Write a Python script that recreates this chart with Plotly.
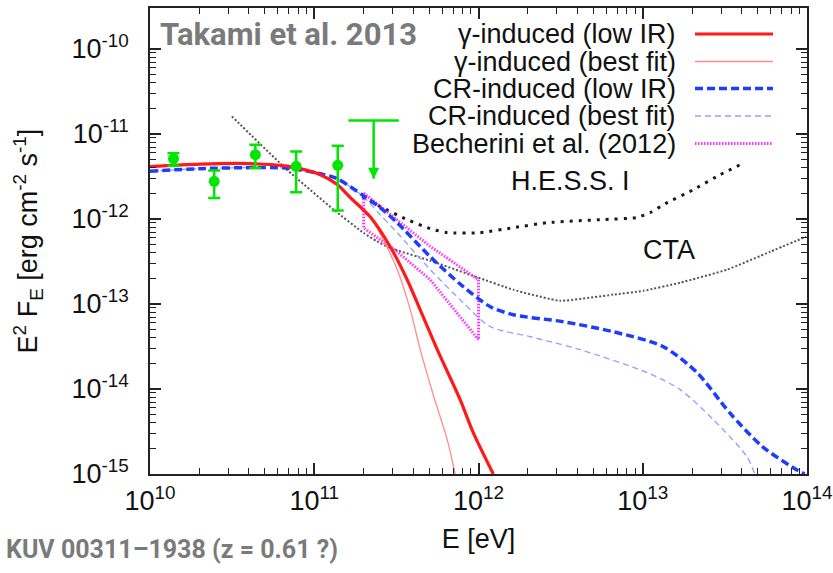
import plotly.graph_objects as go

# ---------------------------------------------------------------------------
# Data: energy E [eV] and E^2 F_E [erg cm^-2 s^-1]
# ---------------------------------------------------------------------------
obs_energy = [1.39e10, 2.46e10, 4.38e10, 7.76e10, 1.39e11]
obs_flux = [5.12e-12, 2.77e-12, 5.71e-12, 4.16e-12, 4.28e-12]
obs_flux_hi = [5.94e-12, 3.73e-12, 7.48e-12, 6.24e-12, 7.28e-12]
obs_flux_lo = [4.24e-12, 1.77e-12, 3.98e-12, 2.06e-12, 1.26e-12]

ul_energy = 2.30e11
ul_flux = 1.445e-11
ul_arrow_tip = 2.98e-12

# gamma-induced cascade, low IR
gamma_low_e = [1.0e10, 2.02e10, 4.08e10, 6.85e10, 1.088e11, 1.38e11, 1.66e11, 2.19e11,
               2.90e11, 3.68e11, 4.60e11, 5.61e11, 7.73e11, 9.29e11, 1.23e12]
gamma_low_f = [4.12e-12, 4.42e-12, 4.48e-12, 4.18e-12, 3.32e-12, 2.54e-12, 1.78e-12, 1.06e-12,
               4.72e-13, 1.93e-13, 7.10e-14, 2.90e-14, 7.48e-15, 3.06e-15, 1.0e-15]

# gamma-induced cascade, best fit
gamma_fit_e = [1.0e10, 2.02e10, 4.08e10, 6.85e10, 1.088e11, 1.38e11, 1.66e11, 2.19e11,
               2.63e11, 3.20e11, 3.84e11, 4.42e11, 5.30e11, 6.45e11, 7.21e11]
gamma_fit_f = [4.12e-12, 4.42e-12, 4.48e-12, 4.18e-12, 3.32e-12, 2.48e-12, 1.73e-12, 1.06e-12,
               5.70e-13, 2.54e-13, 8.57e-14, 2.90e-14, 8.57e-15, 2.54e-15, 1.0e-15]

# CR-induced cascade, low IR
cr_low_e = [1.0e10, 2.02e10, 4.08e10, 6.85e10, 1.088e11, 1.38e11, 1.99e11, 2.52e11, 3.20e11,
            5.08e11, 8.07e11, 1.18e12, 1.63e12, 3.27e12, 6.61e12, 1.33e13, 2.14e13, 3.38e13,
            5.37e13, 8.65e13, 9.68e13]
cr_low_f = [3.65e-12, 3.91e-12, 4.02e-12, 3.96e-12, 3.41e-12, 2.98e-12, 1.88e-12, 1.36e-12, 9.04e-13,
            3.60e-13, 1.60e-13, 9.29e-14, 7.48e-14, 6.19e-14, 4.72e-14, 3.15e-14, 1.56e-14, 5.26e-15,
            2.09e-15, 1.12e-15, 1.0e-15]

# CR-induced cascade, best fit
cr_fit_e = [1.0e10, 2.02e10, 4.08e10, 6.85e10, 1.088e11, 1.38e11, 1.99e11, 2.52e11, 3.20e11,
            5.08e11, 8.07e11, 1.18e12, 2.07e12, 4.16e12, 1.06e13, 1.69e13, 2.69e13, 4.30e13, 4.81e13]
cr_fit_f = [3.65e-12, 3.91e-12, 4.02e-12, 3.96e-12, 3.41e-12, 2.98e-12, 1.83e-12, 1.12e-12, 6.90e-13,
            2.54e-13, 1.035e-13, 5.41e-14, 4.12e-14, 2.90e-14, 1.56e-14, 9.82e-15, 4.36e-15, 1.60e-15, 1.0e-15]

# Becherini et al. (2012) spectral band: upper and lower edges
bech_upper_e = [2.0e11, 3.18e11, 5.08e11, 1.0e12]
bech_upper_f = [2.02e-12, 9.82e-13, 4.76e-13, 1.93e-13]
bech_lower_e = [2.0e11, 3.18e11, 5.08e11, 7.40e11, 1.0e12]
bech_lower_f = [7.83e-13, 4.16e-13, 1.93e-13, 7.83e-14, 3.80e-14]

# instrument sensitivities
hess_e = [1.96e11, 2.52e11, 3.68e11, 5.08e11, 6.45e11, 1.02e12, 1.63e12, 2.62e12, 5.50e12,
          9.25e12, 1.11e13, 1.37e13, 2.03e13, 2.96e13, 4.03e13]
hess_f = [1.83e-12, 1.40e-12, 9.82e-13, 7.69e-13, 6.90e-13, 6.90e-13, 7.90e-13, 9.04e-13, 9.82e-13,
          1.04e-12, 1.19e-12, 1.51e-12, 2.21e-12, 3.32e-12, 4.47e-12]
cta_e = [3.15e10, 6.82e10, 1.31e11, 2.00e11, 2.41e11, 2.90e11, 5.08e11, 9.77e11, 1.63e12,
         3.14e12, 6.61e12, 1.01e13, 1.69e13, 3.27e13, 5.97e13, 9.89e13]
cta_f = [1.61e-11, 3.80e-12, 1.29e-12, 6.84e-13, 5.45e-13, 4.56e-13, 3.23e-13, 2.07e-13, 1.47e-13,
         1.09e-13, 1.29e-13, 1.43e-13, 1.78e-13, 2.54e-13, 4.12e-13, 6.19e-13]

x_decades = [10, 11, 12, 13, 14]
y_decades = [-15, -14, -13, -12, -11, -10]
x_ticktext = ["10<sup>%d</sup>" % d for d in x_decades]
y_ticktext = ["10<sup>%d</sup>" % d for d in y_decades]

legend_labels = ["γ-induced (low IR)", "γ-induced (best fit)", "CR-induced (low IR)",
                 "CR-induced (best fit)", "Becherini et al. (2012)"]

# ---------------------------------------------------------------------------
# Styles
# ---------------------------------------------------------------------------
RED = "#ff1a1a"
RED_LIGHT = "#ff8c8c"
BLUE = "#1e3cff"
BLUE_LIGHT = "#93a3ff"
MAGENTA = "#ff33ff"
GREEN = "#00e600"
FONT = "Liberation Sans, Arial, Helvetica, sans-serif"

styles = [
    dict(color=RED, width=3.2),
    dict(color=RED_LIGHT, width=1.3),
    dict(color=BLUE, width=3.5, dash="8px,4px"),
    dict(color=BLUE_LIGHT, width=1.4, dash="6px,4px"),
    dict(color=MAGENTA, width=3, dash="1.5px,1.5px"),
]

W, H = 833, 573
M_L, M_R, M_T, M_B = 150, 26, 8, 99
PW, PH = W - M_L - M_R, H - M_T - M_B


def px_x(x):
    return (x - M_L) / PW


def px_y(y):
    return (H - M_B - y) / PH


def curve(e, f, line, smoothing=0.8):
    return go.Scatter(x=e, y=f, mode="lines", hoverinfo="skip",
                      line=dict(shape="spline", smoothing=smoothing, **line))


fig = go.Figure()

# sensitivity curves
fig.add_trace(curve(hess_e, hess_f, dict(color="#1a1a1a", width=3, dash="3px,6px"), 0.5))
fig.add_trace(curve(cta_e, cta_f, dict(color="#555555", width=2, dash="2px,2px"), 0.4))

# Becherini band outline
band_e = bech_upper_e + bech_lower_e[::-1] + bech_upper_e[:1]
band_f = bech_upper_f + bech_lower_f[::-1] + bech_upper_f[:1]
fig.add_trace(go.Scatter(x=band_e, y=band_f, mode="lines", line=styles[4], hoverinfo="skip"))

# cascade models
fig.add_trace(curve(cr_fit_e, cr_fit_f, styles[3]))
fig.add_trace(curve(cr_low_e, cr_low_f, styles[2]))
fig.add_trace(curve(gamma_fit_e, gamma_fit_f, styles[1]))
fig.add_trace(curve(gamma_low_e, gamma_low_f, styles[0]))

# measured points
fig.add_trace(go.Scatter(
    x=obs_energy, y=obs_flux, mode="markers",
    marker=dict(color=GREEN, size=11),
    error_y=dict(type="data", symmetric=False,
                 array=[h - f for h, f in zip(obs_flux_hi, obs_flux)],
                 arrayminus=[f - l for f, l in zip(obs_flux, obs_flux_lo)],
                 color=GREEN, thickness=2.5, width=6),
))

# upper limit
fig.add_trace(go.Scatter(x=[ul_energy, ul_energy], y=[ul_flux, ul_arrow_tip], mode="lines",
                         line=dict(color=GREEN, width=2.5)))
fig.add_trace(go.Scatter(x=[ul_energy], y=[ul_flux], mode="markers",
                         marker=dict(symbol="line-ew", size=36, line=dict(color=GREEN, width=2.5))))
fig.add_trace(go.Scatter(x=[ul_energy], y=[ul_arrow_tip], mode="markers",
                         marker=dict(symbol="arrow-down", size=11, color=GREEN)))

minor_x = [m * 10 ** d for d in x_decades[:-1] for m in range(2, 10)]
minor_y = [m * 10.0 ** d for d in y_decades[:-1] for m in range(2, 10)]

axis_common = dict(
    type="log", showgrid=False, zeroline=False,
    showline=True, linecolor="#222222", linewidth=1.6, mirror="allticks",
    ticks="inside", ticklen=11, tickwidth=1.5, tickcolor="#222222",
    tickfont=dict(family=FONT, size=27, color="#111111"),
)

fig.update_xaxes(
    **axis_common,
    range=[10, 14],
    tickvals=[10.0 ** d for d in x_decades], ticktext=x_ticktext,
    minor=dict(tickvals=minor_x, ticks="inside", ticklen=6, tickwidth=1.2, tickcolor="#222222"),
    ticklabelstandoff=2,
    title=dict(text="E [eV]", font=dict(family=FONT, size=27, color="#111111"), standoff=14),
)
fig.update_yaxes(
    **axis_common,
    range=[-15, -9.518],
    tickvals=[10.0 ** d for d in y_decades], ticktext=y_ticktext,
    minor=dict(tickvals=minor_y, ticks="inside", ticklen=6, tickwidth=1.2, tickcolor="#222222"),
    ticklabelstandoff=14,
    title=dict(text="E<sup>2</sup> F<sub>E</sub> [erg cm<sup>-2</sup> s<sup>-1</sup>]",
               font=dict(family=FONT, size=27, color="#111111"), standoff=26),
)

annotations = []
shapes = []
# key: right-aligned labels followed by line samples
row_y = [34, 61.5, 88.5, 116, 143.5]
for label, style, y in zip(legend_labels, styles, row_y):
    annotations.append(dict(xref="paper", yref="paper", x=px_x(678), y=px_y(y),
                            xanchor="right", yanchor="middle", showarrow=False, text=label,
                            font=dict(family=FONT, size=27, color="#111111")))
    shapes.append(dict(type="line", xref="paper", yref="paper",
                       x0=px_x(695), x1=px_x(773), y0=px_y(y), y1=px_y(y), line=style))

# instrument labels
annotations.append(dict(x=12.558, y=-11.549, xref="x", yref="y", showarrow=False,
                        text="H.E.S.S. I", font=dict(family=FONT, size=27, color="#111111")))
annotations.append(dict(x=13.161, y=-12.362, xref="x", yref="y", showarrow=False,
                        text="CTA", font=dict(family=FONT, size=27, color="#111111")))

# headline and source caption
annotations.append(dict(xref="paper", yref="paper", x=px_x(158), y=px_y(34),
                        xanchor="left", yanchor="middle", showarrow=False,
                        text="<b>Takami et al. 2013</b>",
                        font=dict(family="Roboto, sans-serif", size=31, color="#7a7a7a")))
annotations.append(dict(xref="paper", yref="paper", x=px_x(4), y=px_y(549),
                        xanchor="left", yanchor="middle", showarrow=False,
                        text="<b>KUV 00311–1938 (z = 0.61 ?)</b>",
                        font=dict(family="Roboto, sans-serif", size=25, color="#7a7a7a")))

fig.update_layout(
    width=W, height=H,
    margin=dict(l=M_L, r=M_R, t=M_T, b=M_B, autoexpand=False),
    paper_bgcolor="white", plot_bgcolor="white",
    showlegend=False,
    annotations=annotations, shapes=shapes,
)

fig.write_html("out.html")
